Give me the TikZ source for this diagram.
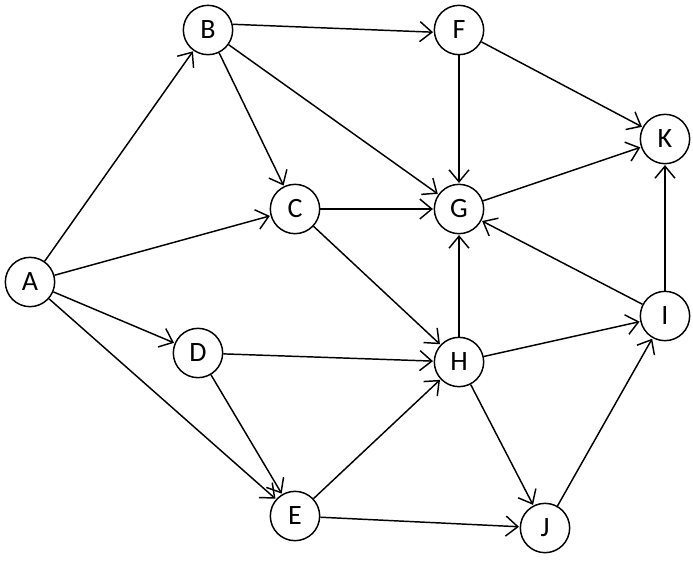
\documentclass[tikz,border=0pt]{standalone}
\usepackage{fontspec}
\setmainfont{Carlito}
\usetikzlibrary{arrows.meta}
\begin{document}
\begin{tikzpicture}[x=0.75pt,y=-0.75pt,
  vtx/.style={circle,draw,line width=1.1pt,minimum size=37pt,inner sep=0pt,font=\fontsize{21}{21}\selectfont},
  edge/.style={line width=1.1pt,-{Straight Barb[length=9pt,width=15pt,line width=1.1pt]},shorten >=0.5pt}]
\useasboundingbox (0,0) rectangle (693,561);
\node[vtx] (A) at (30,282) {A};
\node[vtx] (B) at (208,30) {B};
\node[vtx] (F) at (459,30) {F};
\node[vtx] (K) at (665,139) {K};
\node[vtx] (C) at (295,209) {C};
\node[vtx] (G) at (459,209) {G};
\node[vtx] (D) at (198,353) {D};
\node[vtx] (H) at (459,362) {H};
\node[vtx] (I) at (665,316) {I};
\node[vtx] (E) at (295,516) {E};
\node[vtx] (J) at (545,528) {J};
\draw[edge] (A) -- (B);
\draw[edge] (A) -- (C);
\draw[edge] (A) -- (D);
\draw[edge] (A) -- (E);
\draw[edge] (B.13) -- (F.185);
\draw[edge] (B) -- (C);
\draw[edge] (B) -- (G);
\draw[edge] (F) -- (G);
\draw[edge] (F) -- (K);
\draw[edge] (C) -- (G);
\draw[edge] (C) -- (H);
\draw[edge] (G) -- (K);
\draw[edge] (D) -- (H);
\draw[edge] (D) -- (E);
\draw[edge] (E) -- (H);
\draw[edge] (E) -- (J);
\draw[edge] (H) -- (G);
\draw[edge] (H) -- (I);
\draw[edge] (H) -- (J);
\draw[edge] (I) -- (G);
\draw[edge] (I) -- (K);
\draw[edge] (J) -- (I);
\end{tikzpicture}
\end{document}
